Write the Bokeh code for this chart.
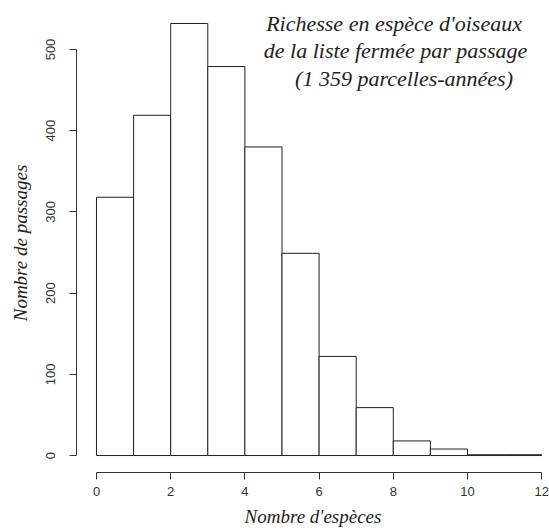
from bokeh.plotting import figure
from bokeh.models import Range1d, Label, FixedTicker
from bokeh.embed import file_html
from bokeh.resources import INLINE

# Data: histogram of species counts per passage
bin_left = [0, 1, 2, 3, 4, 5, 6, 7, 8, 9, 10, 11]
bin_right = [1, 2, 3, 4, 5, 6, 7, 8, 9, 10, 11, 12]
counts = [318, 419, 532, 479, 380, 249, 122, 59, 18, 8, 1, 1]
x_ticks = [0, 2, 4, 6, 8, 10, 12]
y_ticks = [0, 100, 200, 300, 400, 500]
title_lines = ["Richesse en espèce d'oiseaux",
               "de la liste fermée par passage",
               "(1 359 parcelles-années)"]

p = figure(width=549, height=531, output_backend="svg", toolbar_location=None,
           x_range=Range1d(-0.539, 12.21), y_range=Range1d(-20.9, 544.3),
           min_border_left=76, min_border_right=0, min_border_top=13,
           min_border_bottom=59)
p.outline_line_color = None
p.xgrid.visible = False
p.ygrid.visible = False
p.background_fill_color = "white"
p.border_fill_color = "white"

p.quad(left=bin_left, right=bin_right, top=counts, bottom=0,
       fill_color="white", line_color="#222222", line_width=1)

for ax, ticks, bounds in ((p.xaxis, x_ticks, (0, 12)), (p.yaxis, y_ticks, (0, 500))):
    ax.ticker = FixedTicker(ticks=ticks)
    ax.bounds = bounds
    ax.axis_line_color = "#333333"
    ax.major_tick_line_color = "#333333"
    ax.major_tick_out = 7
    ax.major_tick_in = 0
    ax.minor_tick_line_color = None
    ax.major_label_text_font = "Liberation Sans"
    ax.major_label_text_font_size = "13px"
    ax.major_label_text_color = "#333333"
    ax.axis_label_text_font = "Liberation Serif"
    ax.axis_label_text_font_style = "italic"
    ax.axis_label_text_font_size = "19px"
    ax.axis_label_text_color = "#222222"

p.xaxis.axis_label = "Nombre d'espèces"
p.xaxis.major_label_standoff = 7
p.xaxis.axis_label_standoff = 7
p.yaxis.axis_label = "Nombre de passages"
p.yaxis.major_label_orientation = "vertical"
p.yaxis.major_label_standoff = 14
p.yaxis.axis_label_standoff = 13

title_x = [8.02, 8.06, 8.29]
title_y = [532.0, 498.6, 464.3]
for txt, tx, ty in zip(title_lines, title_x, title_y):
    p.add_layout(Label(x=tx, y=ty, text=txt, text_align="center",
                       text_baseline="alphabetic", text_font="Liberation Serif",
                       text_font_style="italic", text_font_size="22px",
                       text_color="#222222"))

open("out.html", "w").write(file_html(p, INLINE))
